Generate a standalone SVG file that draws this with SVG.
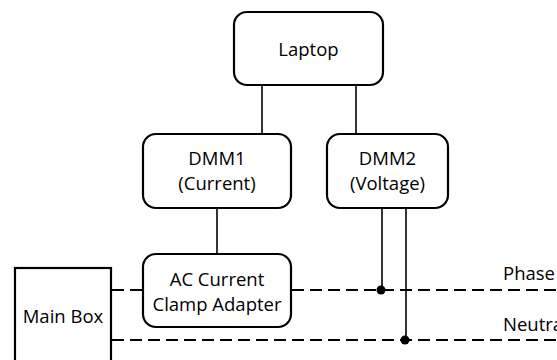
<svg xmlns="http://www.w3.org/2000/svg" width="557" height="360" viewBox="0 0 557 360">
<style>
.box{fill:#fff;stroke:#000;stroke-width:2.2}
.t{font-family:"Open Sans","Liberation Sans",sans-serif;font-size:18.5px;fill:#000;text-anchor:middle}
.w{stroke:#000;stroke-width:1.6;fill:none}
.d{stroke:#000;stroke-width:2;fill:none;stroke-dasharray:12 6}
</style>
<rect width="557" height="360" fill="#fff"/>
<g id="connectors">
<line class="w" x1="262" y1="85" x2="262" y2="133"/>
<line class="w" x1="356" y1="85" x2="356" y2="133"/>
<line class="w" x1="217" y1="208" x2="217" y2="254"/>
<line class="w" x1="382" y1="208" x2="382" y2="290"/>
<line class="w" x1="406" y1="208" x2="406" y2="340"/>
<line class="d" x1="112" y1="290" x2="143" y2="290"/>
<line class="d" x1="292" y1="290" x2="557" y2="290"/>
<line class="d" x1="112" y1="340" x2="557" y2="340"/>
<circle cx="381" cy="290" r="4.5" fill="#000"/>
<circle cx="405" cy="340" r="4.5" fill="#000"/>
</g>
<g id="laptop">
<rect class="box" x="234" y="12" width="149" height="73" rx="13"/>
<text class="t" x="308.5" y="56">Laptop</text>
</g>
<g id="dmm1">
<rect class="box" x="143" y="134" width="148" height="74" rx="13"/>
<text class="t" x="217" y="165">DMM1</text>
<text class="t" x="217" y="190">(Current)</text>
</g>
<g id="dmm2">
<rect class="box" x="327" y="134" width="121" height="74" rx="13"/>
<text class="t" x="387.5" y="165">DMM2</text>
<text class="t" x="387.5" y="190">(Voltage)</text>
</g>
<g id="clamp">
<rect class="box" x="143" y="254" width="148" height="73" rx="13"/>
<text class="t" x="217" y="286">AC Current</text>
<text class="t" x="217" y="311">Clamp Adapter</text>
</g>
<g id="mainbox">
<rect class="box" x="15" y="268" width="96" height="110"/>
<text class="t" x="63" y="323">Main Box</text>
</g>
<g id="labels">
<text class="t" x="503" y="280" style="text-anchor:start">Phase</text>
<text class="t" x="503" y="331" style="text-anchor:start">Neutral</text>
</g>
</svg>
